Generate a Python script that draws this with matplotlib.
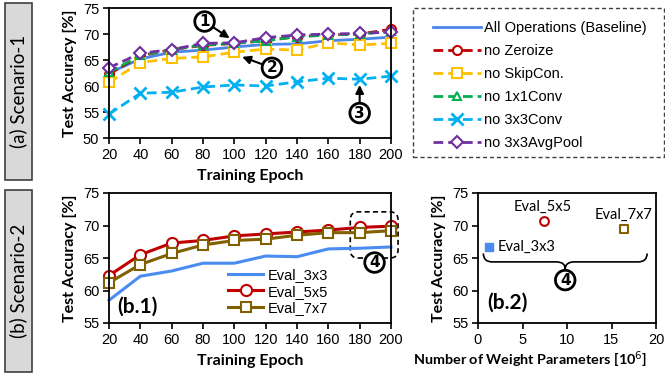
import matplotlib
matplotlib.use("Agg")
import matplotlib.pyplot as plt
from matplotlib.patches import Rectangle, FancyBboxPatch, PathPatch
from matplotlib.path import Path

# ---------------- data ----------------
epochs = [20, 40, 60, 80, 100, 120, 140, 160, 180, 200]

acc_baseline = [62.5, 65.2, 66.5, 66.9, 67.5, 68.0, 68.1, 68.7, 69.0, 69.4]
acc_no_zeroize = [62.3, 65.8, 67.0, 67.8, 68.2, 68.7, 69.5, 69.8, 70.0, 70.9]
acc_no_skip = [60.7, 64.5, 65.3, 65.6, 66.5, 67.1, 66.9, 68.3, 67.9, 68.2]
acc_no_1x1 = [62.6, 65.9, 67.0, 67.9, 68.2, 68.7, 69.5, 69.8, 70.0, 70.5]
acc_no_3x3 = [54.6, 58.6, 58.8, 59.8, 60.2, 60.0, 60.8, 61.5, 61.3, 61.9]
acc_no_avgpool = [63.5, 66.3, 67.0, 68.2, 68.3, 69.3, 69.8, 70.0, 70.1, 70.4]

series_a_labels = ["All Operations (Baseline)", "no Zeroize", "no SkipCon.",
                   "no 1x1Conv", "no 3x3Conv", "no 3x3AvgPool"]

eval_3x3 = [58.5, 62.2, 63.0, 64.2, 64.2, 65.3, 65.2, 66.4, 66.5, 66.7]
eval_5x5 = [62.3, 65.5, 67.3, 67.7, 68.4, 68.7, 69.0, 69.3, 69.7, 69.9]
eval_7x7 = [61.2, 64.0, 65.7, 67.0, 67.7, 67.9, 68.5, 68.9, 68.9, 69.2]
series_b_labels = ["Eval_3x3", "Eval_5x5", "Eval_7x7"]

params_m = [1.2, 7.4, 16.4]          # number of weight parameters [10^6]
final_acc = [66.7, 70.7, 69.4]

# ---------------- style ----------------
W, H = 665, 375
fig = plt.figure(figsize=(W / 100, H / 100), dpi=100)
TICK_FONT = "Liberation Sans"
LAB_FONT = "Lato"

def fx(px):
    return px / W

def fy(py):
    return 1 - py / H

def style_axes(ax):
    for s in ax.spines.values():
        s.set_linewidth(1.3)
        s.set_color("black")
    ax.tick_params(direction="out", length=4, width=1.2, labelsize=10.5, pad=3)
    for lab in ax.get_xticklabels() + ax.get_yticklabels():
        lab.set_fontfamily(TICK_FONT)

# ---------------- (a) scenario-1 ----------------
ax1 = fig.add_axes([fx(109), fy(138), fx(282), 130 / H])
c_base = "#4a86e8"
ax1.plot(epochs, acc_baseline, color=c_base, lw=2, label=series_a_labels[0])
ax1.plot(epochs, acc_no_zeroize, color="#c00000", lw=2, ls=(0, (3.5, 1.8)), marker="o",
         ms=6.5, mfc="white", mew=1.5, label=series_a_labels[1])
ax1.plot(epochs, acc_no_skip, color="#ffc000", lw=2, ls=(0, (3.5, 1.8)), marker="s",
         ms=6.5, mfc="white", mew=1.5, label=series_a_labels[2])
ax1.plot(epochs, acc_no_1x1, color="#00b050", lw=2, ls=(0, (3.5, 1.8)), marker="^",
         ms=6, mfc="white", mew=1.5, label=series_a_labels[3])
ax1.plot(epochs, acc_no_3x3, color="#00b0f0", lw=2, ls=(0, (3.5, 1.8)), marker="x",
         ms=8, mew=2, label=series_a_labels[4])
ax1.plot(epochs, acc_no_avgpool, color="#7030a0", lw=2, ls=(0, (3.5, 1.8)), marker="D",
         ms=6, mfc="white", mew=1.5, label=series_a_labels[5])
for ln in ax1.lines:
    ln.set_clip_on(False)
ax1.set_xlim(20, 200)
ax1.set_ylim(50, 75)
ax1.set_xticks(epochs)
ax1.set_yticks([50, 55, 60, 65, 70, 75])
style_axes(ax1)
ax1.set_xlabel("Training Epoch", fontfamily=LAB_FONT, fontweight="bold", fontsize=11.5, labelpad=5)
ax1.set_ylabel("Test Accuracy [%]", fontfamily=LAB_FONT, fontweight="bold", fontsize=11.5, labelpad=4)

circ = dict(boxstyle="circle,pad=0.15", fc="white", ec="black", lw=2)
arr = dict(arrowstyle="-|>", color="black", lw=1.5, mutation_scale=12, shrinkA=0, shrinkB=0)
ax1.annotate("1", xy=(97, 69.2), xytext=(81, 72.4), fontsize=11, fontweight="bold",
             ha="center", va="center", bbox=circ, arrowprops=arr, annotation_clip=False)
ax1.annotate("2", xy=(105, 65.6), xytext=(124, 63.5), fontsize=11, fontweight="bold",
             ha="center", va="center", bbox=circ, arrowprops=arr, annotation_clip=False)
ax1.annotate("3", xy=(180, 60.2), xytext=(180, 54.8), fontsize=11, fontweight="bold",
             ha="center", va="center", bbox=circ, arrowprops=arr, annotation_clip=False)

# legend box for (a)
fig.patches.append(Rectangle((fx(413), fy(157)), fx(251), 149 / H, transform=fig.transFigure,
                             fill=False, ec="#404040", lw=1, ls=(0, (3, 2))))
fig.legend(handles=ax1.lines, labels=series_a_labels, loc="upper left",
           bbox_to_anchor=(fx(426), fy(14)), frameon=False,
           prop={"family": TICK_FONT, "size": 10.5}, handlelength=3.3,
           handletextpad=0.2, labelspacing=0.62, borderpad=0)

# ---------------- (b.1) ----------------
ax2 = fig.add_axes([fx(109), fy(323), fx(282), 130 / H])
ax2.plot(epochs, eval_3x3, color="#4a8cf0", lw=2.2, label=series_b_labels[0])
ax2.plot(epochs, eval_5x5, color="#c00000", lw=2.2, marker="o", ms=8, mfc="white",
         mew=1.5, label=series_b_labels[1])
ax2.plot(epochs, eval_7x7, color="#806000", lw=2.2, marker="s", ms=7.5, mfc="white",
         mew=1.5, label=series_b_labels[2])
for ln in ax2.lines:
    ln.set_clip_on(False)
ax2.set_xlim(20, 200)
ax2.set_ylim(55, 75)
ax2.set_xticks(epochs)
ax2.set_yticks([55, 60, 65, 70, 75])
style_axes(ax2)
ax2.set_xlabel("Training Epoch", fontfamily=LAB_FONT, fontweight="bold", fontsize=11.5, labelpad=5)
ax2.set_ylabel("Test Accuracy [%]", fontfamily=LAB_FONT, fontweight="bold", fontsize=11.5, labelpad=4)
ax2.legend(loc="lower left", bbox_to_anchor=(fx(221), fy(322)), bbox_transform=fig.transFigure,
           frameon=False, prop={"family": TICK_FONT, "size": 10.5}, handlelength=2.4,
           handletextpad=0.3, labelspacing=0.15, borderpad=0)
ax2.text(0.03, 0.05, "(b.1)", transform=ax2.transAxes, fontfamily=LAB_FONT,
         fontweight="bold", fontsize=15, ha="left", va="bottom")
box = FancyBboxPatch((174, 65.0), 30.5, 7.1, boxstyle="round,pad=0,rounding_size=5",
                     mutation_aspect=0.25, fill=False, ec="black", lw=1.2, ls=(0, (3, 2)),
                     clip_on=False)
ax2.add_patch(box)
ax2.text(189.5, 64.3, "4", fontsize=11, fontweight="bold", ha="center", va="center",
         bbox=circ, clip_on=False)

# ---------------- (b.2) ----------------
ax3 = fig.add_axes([fx(478), fy(323), fx(178), 130 / H])
ax3.scatter(params_m[0:1], final_acc[0:1], marker="s", s=40, color="#4a8cf0", zorder=3)
ax3.scatter(params_m[1:2], final_acc[1:2], marker="o", s=40, facecolor="white",
            edgecolor="#c00000", lw=1.5, zorder=3)
ax3.scatter(params_m[2:3], final_acc[2:3], marker="s", s=40, facecolor="white",
            edgecolor="#806000", lw=1.5, zorder=3)
ax3.set_xlim(0, 20)
ax3.set_ylim(55, 75)
ax3.set_xticks([0, 5, 10, 15, 20])
ax3.set_yticks([55, 60, 65, 70, 75])
style_axes(ax3)
fig.text(fx(413), fy(360), "Number of Weight Parameters [10$^6$]", fontfamily=LAB_FONT,
         fontweight="bold", fontsize=10.4, ha="left", va="center")
ax3.set_ylabel("Test Accuracy [%]", fontfamily=LAB_FONT, fontweight="bold",
               fontsize=11.5, labelpad=4)
ax3.text(params_m[0] + 1.0, final_acc[0], series_b_labels[0], fontfamily=LAB_FONT,
         fontsize=10.5, ha="left", va="center")
ax3.text(params_m[1] - 0.1, final_acc[1] + 1.1, series_b_labels[1], fontfamily=LAB_FONT,
         fontsize=10.5, ha="center", va="bottom")
ax3.text(params_m[2] - 0.1, final_acc[2] + 1.2, series_b_labels[2], fontfamily=LAB_FONT,
         fontsize=10.5, ha="center", va="bottom")
ax3.text(0.05, 0.08, "(b.2)", transform=ax3.transAxes, fontfamily=LAB_FONT,
         fontweight="bold", fontsize=15, ha="left", va="bottom")
# curly brace
xl, xr, xm = 0.6, 19.0, 9.8
yt, yh, yc = 65.7, 64.4, 63.3
verts = [(xl, yt), (xl, yh), (xl + 1.0, yh), (xm - 1.0, yh), (xm, yh), (xm, yc),
         (xm, yh), (xm + 1.0, yh), (xr - 1.0, yh), (xr, yh), (xr, yt)]
codes = [Path.MOVETO, Path.CURVE3, Path.CURVE3, Path.LINETO, Path.CURVE3, Path.CURVE3,
         Path.CURVE3, Path.CURVE3, Path.LINETO, Path.CURVE3, Path.CURVE3]
ax3.add_patch(PathPatch(Path(verts, codes), fill=False, ec="black", lw=1.2))
ax3.text(xm, 61.6, "4", fontsize=11, fontweight="bold", ha="center", va="center", bbox=circ)

# ---------------- side labels ----------------
for (y0, y1, txt) in [(3, 180, "(a) Scenario-1"), (190, 372, "(b) Scenario-2")]:
    fig.patches.append(Rectangle((fx(5), fy(y1)), fx(27), (y1 - y0) / H,
                                 transform=fig.transFigure, fc="#d9d9d9", ec="#404040", lw=1.2))
    fig.text(fx(18.5), fy((y0 + y1) / 2), txt, rotation=90, ha="center", va="center",
             fontfamily=LAB_FONT, fontsize=13.5)

fig.savefig("out.png", dpi=100)
